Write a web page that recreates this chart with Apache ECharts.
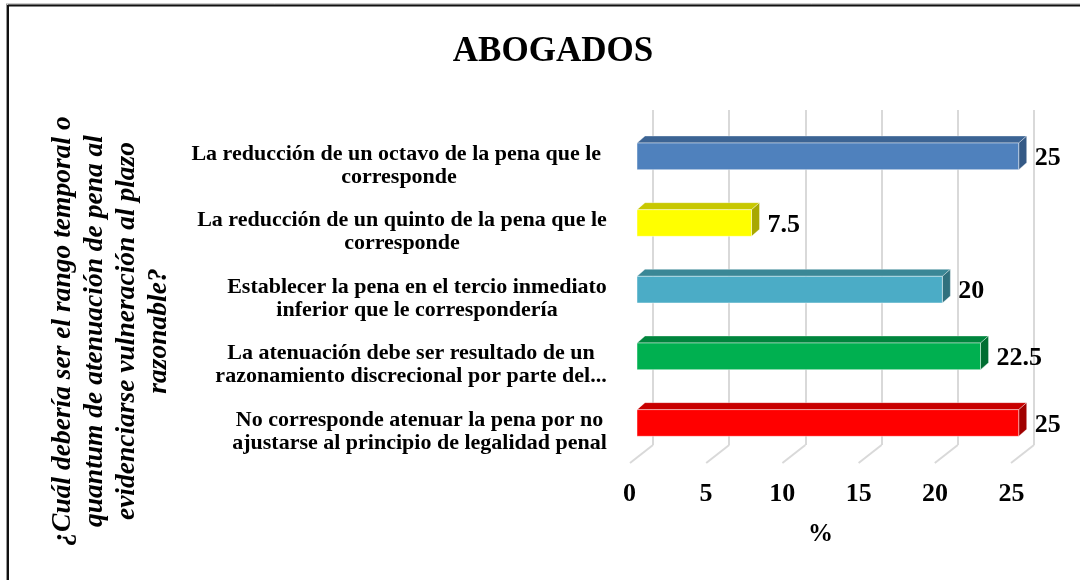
<!DOCTYPE html>
<html>
<head>
<meta charset="utf-8">
<script src="https://cdn.jsdelivr.net/npm/echarts@6/dist/echarts.min.js"></script>
<style>
html,body{margin:0;padding:0;background:#fff;}
#chart{width:1080px;height:580px;}
</style>
</head>
<body>
<div id="chart"></div>
<script>
// ---- data ----
var chartTitle = 'ABOGADOS';
var axisTitle = '¿Cuál debería ser el rango temporal o\nquantum de atenuación de pena al\nevidenciarse vulneración al plazo\nrazonable?';
var xAxisName = '%';
var categories = [
  'La reducción de un octavo de la pena que le \ncorresponde',
  'La reducción de un quinto de la pena que le\ncorresponde',
  'Establecer la pena en el tercio inmediato\ninferior que le correspondería',
  'La atenuación debe ser resultado de un\nrazonamiento discrecional por parte del...',
  'No corresponde atenuar la pena por no\najustarse al principio de legalidad penal'
];
var values = [25, 7.5, 20, 22.5, 25];
var tickValues = [0, 5, 10, 15, 20, 25];

// ---- styles ----
var frontColors = ['#4F81BD', '#FFFF00', '#4BACC6', '#00B050', '#FF0000'];
var topColors   = ['#3C6494', '#C8C800', '#3A8796', '#00853D', '#C80000'];
var sideColors  = ['#345985', '#A8A800', '#30707D', '#006E31', '#A00000'];
var FONT = '"Liberation Serif", "DejaVu Serif", serif';
var CAT_FONT = FONT;
var catFontSize = 22;
var DX = 8, DY = -7;           // bar depth
var FX = -23, FY = 18;         // floor depth

// measure block widths so each label's lines are centred inside a right-aligned block
var cv = document.createElement('canvas').getContext('2d');
cv.font = 'bold ' + catFontSize + 'px ' + CAT_FONT;
var rich = {};
categories.forEach(function (c, i) {
  var w = 0;
  c.split('\n').forEach(function (l) { w = Math.max(w, cv.measureText(l).width); });
  rich['c' + i] = { width: Math.ceil(w) + 2, align: 'center', fontFamily: CAT_FONT, fontWeight: 'bold', fontSize: catFontSize, color: '#000', lineHeight: 23 };
});

var chart = echarts.init(document.getElementById('chart'));
chart.setOption({
  animation: false,
  backgroundColor: '#fff',
  title: {
    text: chartTitle, left: 548, top: 29, textAlign: 'center',
    textStyle: { fontFamily: FONT, fontWeight: 'bold', fontSize: 35, color: '#000' }
  },
  graphic: [
    { type: 'line', shape: { x1: 6, y1: 4, x2: 1080, y2: 4 }, style: { stroke: '#999', lineWidth: 1 } },
    { type: 'line', shape: { x1: 8, y1: 5.5, x2: 1080, y2: 5.5 }, style: { stroke: '#111', lineWidth: 2 } },
    { type: 'line', shape: { x1: 6.5, y1: 4, x2: 6.5, y2: 580 }, style: { stroke: '#999', lineWidth: 1 } },
    { type: 'line', shape: { x1: 8, y1: 5, x2: 8, y2: 580 }, style: { stroke: '#111', lineWidth: 2 } },
    {
      type: 'text', x: 111, y: 331, rotation: Math.PI / 2,
      style: {
        text: axisTitle, fontFamily: FONT, fontWeight: 'bold', fontStyle: 'italic',
        fontSize: 27.5, lineHeight: 32, fill: '#000', align: 'center', verticalAlign: 'middle'
      }
    }
  ],
  grid: [
    { left: 653, right: 46, top: 110, bottom: 135 },       // back wall
    { left: 629.5, right: 68.5, top: 128, bottom: 117 },   // front floor edge (tick labels)
    { left: 637, right: 61.3, top: 123, bottom: 123.7 }    // bar front faces
  ],
  xAxis: [
    { gridIndex: 0, type: 'value', min: 0, max: 25, interval: 5,
      axisLine: { show: false }, axisTick: { show: false }, axisLabel: { show: false },
      splitLine: { show: true, lineStyle: { color: '#D9D9D9', width: 2 } } },
    { gridIndex: 1, type: 'value', min: 0, max: 25, interval: 5,
      axisLine: { show: false }, axisTick: { show: false }, splitLine: { show: false },
      axisLabel: { margin: 18, fontFamily: FONT, fontWeight: 'bold', fontSize: 26, color: '#000' },
      name: xAxisName, nameLocation: 'middle', nameGap: 59,
      nameTextStyle: { fontFamily: FONT, fontWeight: 'bold', fontSize: 25, color: '#000' } },
    { gridIndex: 2, type: 'value', min: 0, max: 25, interval: 5, show: false }
  ],
  yAxis: [
    { gridIndex: 0, type: 'value', min: 0, max: 1, show: false },
    { gridIndex: 1, type: 'value', min: 0, max: 1, show: false },
    { gridIndex: 2, type: 'category', data: categories, inverse: true,
      axisLine: { show: false }, axisTick: { show: false }, splitLine: { show: false },
      axisLabel: {
        margin: 29, align: 'right', padding: [18, 0, 0, 0], rich: rich,
        formatter: function (val, idx) {
          return val.split('\n').map(function (l) { return '{c' + idx + '|' + l + '}'; }).join('\n');
        }
      } }
  ],
  series: [
    {
      type: 'custom', xAxisIndex: 0, yAxisIndex: 0, silent: true,
      data: tickValues.map(function (v) { return [v, 0]; }),
      renderItem: function (params, api) {
        var p = api.coord([api.value(0), 0]);
        return { type: 'line', shape: { x1: p[0], y1: p[1], x2: p[0] + FX, y2: p[1] + FY },
                 style: { stroke: '#D9D9D9', lineWidth: 2 } };
      }
    },
    {
      type: 'custom', xAxisIndex: 2, yAxisIndex: 2, silent: true,
      data: values.map(function (v, i) { return [v, i]; }),
      renderItem: function (params, api) {
        var i = api.value(1);
        var v = api.value(0);
        var p0 = api.coord([0, i]);
        var p1 = api.coord([v, i]);
        var h = api.size([0, 1])[1] * 0.4;
        var x0 = p0[0], x1 = p1[0], yt = p0[1] - h / 2, yb = p0[1] + h / 2;
        var idx = params.dataIndex;
        return {
          type: 'group',
          children: [
            { type: 'polygon', shape: { points: [[x0, yt], [x0 + DX, yt + DY], [x1 + DX, yt + DY], [x1, yt]] },
              style: { fill: topColors[idx], stroke: 'rgba(255,255,255,0.35)', lineWidth: 1 } },
            { type: 'polygon', shape: { points: [[x1, yt], [x1 + DX, yt + DY], [x1 + DX, yb + DY], [x1, yb]] },
              style: { fill: sideColors[idx], stroke: 'rgba(255,255,255,0.35)', lineWidth: 1 } },
            { type: 'rect', shape: { x: x0, y: yt, width: x1 - x0, height: h },
              style: { fill: frontColors[idx], stroke: 'rgba(255,255,255,0.45)', lineWidth: 1 } },
            { type: 'text', x: x1 + DX + 8, y: p0[1] + 2,
              style: { text: String(v), fontFamily: FONT, fontWeight: 'bold', fontSize: 26, fill: '#000',
                       align: 'left', verticalAlign: 'middle' } }
          ]
        };
      }
    }
  ]
});
</script>
</body>
</html>
